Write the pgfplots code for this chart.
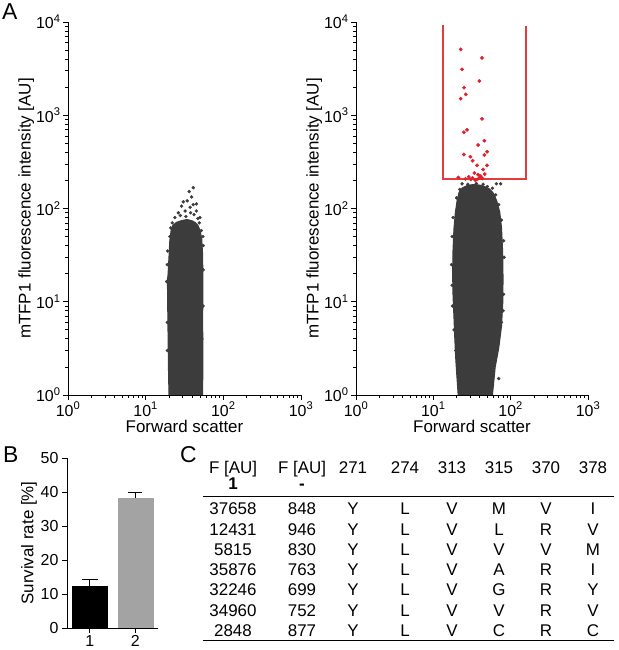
\documentclass[border=0pt]{standalone}
\usepackage{fontspec}
\setmainfont{Liberation Sans}
\usepackage{pgfplots}
\pgfplotsset{compat=1.18}
\definecolor{cloud}{HTML}{3C3C3C}
\definecolor{redpt}{HTML}{E0202A}
\definecolor{gatered}{RGB}{226,60,60}
\definecolor{bargray}{HTML}{A3A3A3}
\newcommand{\fs}[1]{\fontsize{#1}{#1}\selectfont}
\begin{document}
\begin{tikzpicture}
\path[use as bounding box] (0,0) rectangle (619bp,650bp);
% ---------- Panel A left
\begin{axis}[at={(68bp,255bp)}, anchor=south west,
    scale only axis, width=233bp, height=373bp,
    xmode=log, ymode=log, xmin=1, xmax=1000, ymin=1, ymax=10000,
    axis lines*=left, axis line style={line width=0.9bp},
    tick align=outside, major tick length=5bp, minor tick length=3bp,
    every tick/.style={black, line width=0.8bp},
    xtick={1,10,100,1000}, ytick={1,10,100,1000,10000},
    xticklabels={10\textsuperscript{0},10\textsuperscript{1},10\textsuperscript{2},10\textsuperscript{3}},
    yticklabels={10\textsuperscript{0},10\textsuperscript{1},10\textsuperscript{2},10\textsuperscript{3},10\textsuperscript{4}},
    tick label style={font=\fs{16}},
    xticklabel style={inner ysep=1bp, yshift=-1bp},
    yticklabel style={xshift=1bp},
    label style={font=\fs{17}},
    xlabel={Forward scatter},
    xlabel style={inner ysep=1bp, yshift=-2bp},
    ylabel={mTFP1 fluorescence intensity [AU]},
    ylabel style={yshift=-5bp}]
\addplot[fill=cloud, draw=cloud, line width=1.2bp] coordinates {
(20,1)(19.7,2)(19.5,4)(19.3,8)(19.3,12)(19,16)(19.5,20)(20,30)(20.5,45)(21.3,58)(22.5,66)(25,71)(29,74)(34,76)(39,74)(43,71)(47,66)(50,58)(52.5,48)(54,32)(54.5,15)(54,6)(54.5,3)(54,1)} -- cycle;
\addplot[only marks, mark=*, mark size=1.5bp, cloud] coordinates {
(41,167)(36.4,152)(39,133)(30.5,118)(34.3,121)(45,112)(41,110)(29,106)(37.4,103)(26.3,90)(32.2,94)(45,94)(23.8,80)(50,80)(28,84)(42,86)(38,90)(47,78)(18.6,16.5)(55,40)(19,25)(21,62)(52,58)(22,70)(33,82)(49,70)(54.5,50)(55,22)(55,9)(19,6)(19.2,35)(20.5,50)(53,4)(19,3)};
\end{axis}
% ---------- Panel A right
\begin{axis}[at={(356bp,255bp)}, anchor=south west,
    scale only axis, width=232bp, height=373bp,
    xmode=log, ymode=log, xmin=1, xmax=1000, ymin=1, ymax=10000,
    axis lines*=left, axis line style={line width=0.9bp},
    tick align=outside, major tick length=5bp, minor tick length=3bp,
    every tick/.style={black, line width=0.8bp},
    xtick={1,10,100,1000}, ytick={1,10,100,1000,10000},
    xticklabels={10\textsuperscript{0},10\textsuperscript{1},10\textsuperscript{2},10\textsuperscript{3}},
    yticklabels={10\textsuperscript{0},10\textsuperscript{1},10\textsuperscript{2},10\textsuperscript{3},10\textsuperscript{4}},
    tick label style={font=\fs{16}},
    xticklabel style={inner ysep=1bp, yshift=-1bp},
    yticklabel style={xshift=1bp},
    label style={font=\fs{17}},
    xlabel={Forward scatter},
    xlabel style={inner ysep=1bp, yshift=-2bp},
    ylabel={mTFP1 fluorescence intensity [AU]},
    ylabel style={yshift=-5bp}]
\addplot[fill=cloud, draw=cloud, line width=1.2bp] coordinates {
(21,1)(20.3,1.5)(19.5,2.5)(19,4)(18.5,7)(18,12)(17.8,20)(18,35)(18.5,60)(19.3,90)(20.3,120)(21.5,148)(23.5,165)(27,175)(32,180)(38,179)(45,173)(53,162)(60,145)(66,120)(72,92)(76,62)(78.5,35)(79.5,18)(79,10)(76,5.5)(70,3.2)(63,2)(58,1)} -- cycle;
\addplot[only marks, mark=*, mark size=1.5bp, cloud] coordinates {
(23.5,184)(74.3,184)(65.4,184)(70,1.5)(58,1.3)(82,30)(17.2,25)(81,12)(17.5,50)(76,75)(20,130)(58,165)(28,182)(44,182)(17.5,15)(18,80)(81,45)(70,110)(64,140)(36,185)(50,172)(80,8)(76,6)(62,2.6)(18.5,5)(19.5,3)(22,160)(17.6,9)};
\addplot[draw=gatered, color=gatered, line width=2bp, no markers] coordinates {(13.4,9290)(13.4,205)(156,205)(156,9070)};
\addplot[only marks, mark=*, mark size=1.7bp, color=redpt] coordinates {
(22.6,5080)(42.6,4120)(23.5,3110)(39.4,2330)(25,1977)(26.3,1673)(22.6,1504)(42.6,916)(27.3,697)(24.8,656)(45.7,534)(37.9,480)(49.5,406)(24.8,380)(45.7,374)(30.2,359)(32.3,325)(49.5,290)(36.8,290)(44,262)(46.2,234)(21.1,215)(28.7,219)(32,212)(37.9,230)(39.8,215)(35,201)(36.8,205)(30.5,205)(26,208)(41,222)(34,240)(43,210)};
\end{axis}
% ---------- Panel B
\begin{axis}[at={(67bp,22bp)}, anchor=south west, scale only axis, width=91bp, height=170bp,
  xmin=0.5, xmax=2.5, ymin=0, ymax=50,
  axis lines*=left, axis line style={line width=0.9bp},
  tick align=outside, major tick length=5bp,
  every tick/.style={black, line width=0.8bp},
  xtick={1,2}, xticklabels={1,2},
  ytick={0,10,20,30,40,50}, yticklabels={0,10,20,30,40,50},
  tick label style={font=\fs{16}},
  xticklabel style={yshift=1bp},
  ylabel={Survival rate [\%]}, label style={font=\fs{17}},
  ylabel style={yshift=-3bp}]
\addplot[ybar, bar width=35bp, bar shift=0pt, fill=black, draw=black,
  error bars/.cd, y dir=plus, y explicit,
  error bar style={black, line width=1.4bp},
  error mark options={rotate=90, mark size=8bp, line width=1.4bp, black}]
  coordinates {(1,12.2) +- (0,2.0)};
\addplot[ybar, bar width=35bp, bar shift=0pt, fill=bargray, draw=bargray,
  error bars/.cd, y dir=plus, y explicit,
  error bar style={black, line width=1.4bp},
  error mark options={rotate=90, mark size=7bp, line width=1.4bp, black}]
  coordinates {(2,38.2) +- (0,1.6)};
\end{axis}
% ---------- Panel letters
\node[anchor=base west, inner sep=0pt, font=\fs{23}] at (2bp,630bp) {A};
\node[anchor=base west, inner sep=0pt, font=\fs{23}] at (3bp,187bp) {B};
\node[anchor=base west, inner sep=0pt, font=\fs{23}] at (180bp,187bp) {C};
% ---------- Panel C table
\begin{scope}[every node/.style={anchor=base, inner sep=0pt, font=\fs{17}}]
\foreach \x/\t in {233/F [AU],302/F [AU],353/271,405/274,452/313,499/315,546/370,593/378}
  \node at (\x bp,176bp) {\t};
\node[font=\fs{17}\bfseries] at (233bp,160bp) {1};
\node[font=\fs{17}\bfseries] at (302bp,160bp) {-};
\draw[line width=1bp] (203bp,153bp) -- (614bp,153bp);
\draw[line width=1bp] (203bp,9bp) -- (614bp,9bp);
\foreach \r [count=\i from 0] in {
  {37658,848,Y,L,V,M,V,I},
  {12431,946,Y,L,V,L,R,V},
  {5815,830,Y,L,V,V,V,M},
  {35876,763,Y,L,V,A,R,I},
  {32246,699,Y,L,V,G,R,Y},
  {34960,752,Y,L,V,V,R,V},
  {2848,877,Y,L,V,C,R,C}}{
  \pgfmathsetmacro{\yy}{135-20.2*\i}
  \foreach \v [count=\j from 1] in \r {
    \pgfmathsetmacro{\xx}{{233,302,353,405,452,499,546,593}[\j-1]}
    \node at (\xx bp,\yy bp) {\v};
  }
}
\end{scope}
\end{tikzpicture}
\end{document}
